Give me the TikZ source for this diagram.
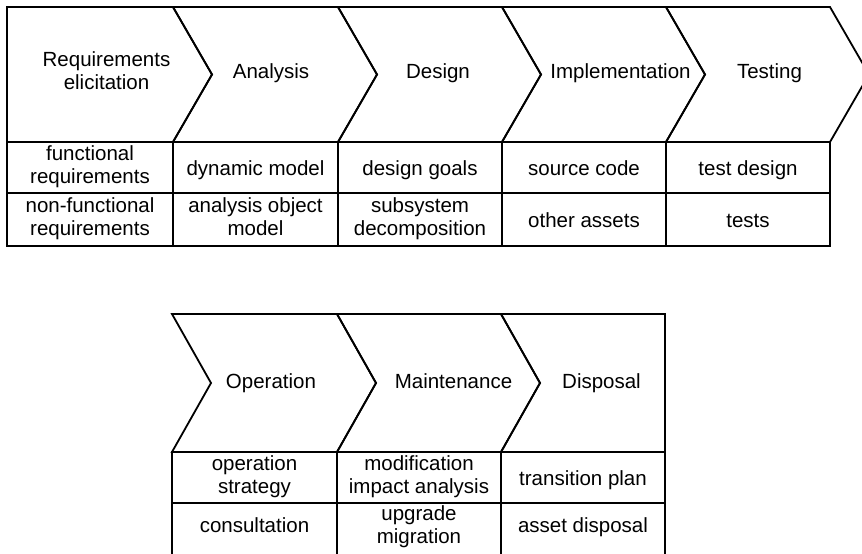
\documentclass[tikz,border=0pt]{standalone}
\usepackage{fontspec}
\setmainfont{Liberation Sans}
\newcommand\sk{\rule[-7pt]{0pt}{23pt}}
\newcommand\twol[2]{\sk #1\\\sk #2}
\newcommand\onel[1]{\sk #1}
\begin{document}
\begin{tikzpicture}[x=1pt,y=-1pt,line width=1.8pt,line join=miter,
  lbl/.style={font=\fontsize{20.5}{23}\selectfont,align=center,inner sep=0pt}]
\path[use as bounding box] (0,0) rectangle (862,554);
\clip (0,0) rectangle (862,554);
% ---------- top row chevrons ----------
\draw (7,7) -- (173,7) -- (212,74.5) -- (173,142) -- (7,142) -- cycle;
\foreach \l/\r in {173/338,338/502,502/666,666/830}
  \draw (\l,7) -- (\r,7) -- ++(39,67.5) -- (\r,142) -- (\l,142) -- ++(39,-67.5) -- cycle;
% ---------- top row tables ----------
\foreach \l/\r in {7/173,173/338,338/502,502/666,666/830}
  \draw (\l,142) rectangle (\r,193) (\l,193) rectangle (\r,246);
\node[lbl] (req) at (106.5,73.5) {\twol{Requirements}{elicitation}};
\node[lbl] (ana) at (271,74) {\onel{Analysis}};
\node[lbl] (des) at (438,74) {\onel{Design}};
\node[lbl] (imp) at (620.5,74) {\onel{Implementation}};
\node[lbl] (tes) at (769.5,74) {\onel{Testing}};
\node[lbl] (c11) at (90,167) {\twol{functional}{requirements}};
\node[lbl] (c12) at (90,219) {\twol{non-functional}{requirements}};
\node[lbl] (c21) at (255.5,170.5) {\onel{dynamic model}};
\node[lbl] (c22) at (255.5,219) {\twol{analysis object}{model}};
\node[lbl] (c31) at (420,170.5) {\onel{design goals}};
\node[lbl] (c32) at (420,219) {\twol{subsystem}{decomposition}};
\node[lbl] (c41) at (584,170.5) {\onel{source code}};
\node[lbl] (c42) at (584,222.5) {\onel{other assets}};
\node[lbl] (c51) at (748,170.5) {\onel{test design}};
\node[lbl] (c52) at (748,222.5) {\onel{tests}};
% ---------- bottom row chevrons ----------
\foreach \l/\r in {172/337,337/501}
  \draw (\l,314) -- (\r,314) -- ++(39,69) -- (\r,452) -- (\l,452) -- ++(39,-69) -- cycle;
\draw (501,314) -- (665,314) -- (665,452) -- (501,452) -- (540,383) -- cycle;
\foreach \l/\r in {172/337,337/501,501/665}
  \draw (\l,452) rectangle (\r,503) (\l,503) rectangle (\r,556);
\node[lbl] (ope) at (271,383.5) {\onel{Operation}};
\node[lbl] (mai) at (453.5,383.5) {\onel{Maintenance}};
\node[lbl] (dis) at (601.5,383.5) {\onel{Disposal}};
\node[lbl] (d11) at (254.5,477.5) {\twol{operation}{strategy}};
\node[lbl] (d12) at (254.5,528) {\onel{consultation}};
\node[lbl] (d21) at (419,477.5) {\twol{modification}{impact analysis}};
\node[lbl] (d22) at (419,527) {\twol{upgrade}{migration}};
\node[lbl] (d31) at (583,480.5) {\onel{transition plan}};
\node[lbl] (d32) at (583,528) {\onel{asset disposal}};
\end{tikzpicture}
\end{document}
